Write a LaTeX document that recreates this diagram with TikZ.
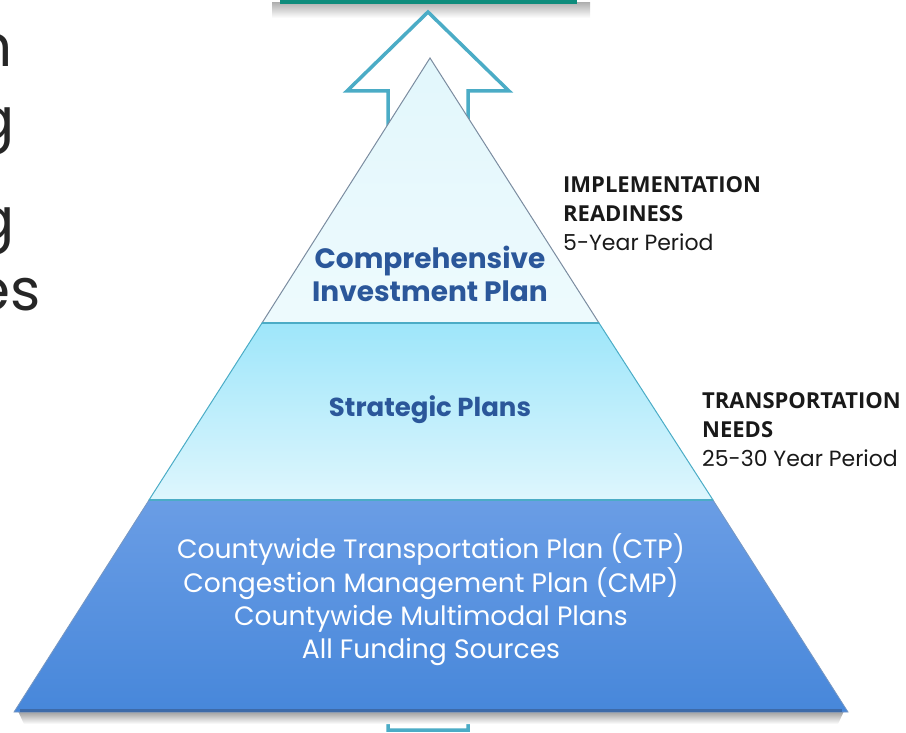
\documentclass[tikz,border=0pt]{standalone}
\usepackage{fontspec}
\setmainfont{Poppins}
\newfontfamily\headfont{Open Sans}
\usetikzlibrary{positioning}
\definecolor{arrowteal}{HTML}{4BACC6}
\definecolor{barteal}{HTML}{0E8C7C}
\definecolor{tiertext}{HTML}{2B579A}
\definecolor{toplight}{HTML}{E2F7FC}
\definecolor{midtop}{HTML}{9EE6FA}
\definecolor{midbottom}{HTML}{DEF6FD}
\definecolor{basetop}{HTML}{6A9DE5}
\definecolor{basebottom}{HTML}{4787DA}
\definecolor{baseedge}{HTML}{3D6AA8}
\definecolor{rimgray}{HTML}{7B8CA0}

\begin{document}
\begin{tikzpicture}[x=1pt, y=-1pt,
    tier_label/.style={font=\bfseries\fontsize{28}{33}\selectfont, text=tiertext, align=center},
    base_label/.style={font=\fontsize{26.6}{33.3}\selectfont, text=white, align=center},
    side_label/.style={anchor=north west, inner sep=0, align=left, font=\headfont\fontsize{22}{29}\selectfont, text=black!90},
    cut_word/.style={anchor=base east, inner sep=0, font=\fontsize{58}{60}\selectfont, text=black!85}]
  \useasboundingbox (0,0) rectangle (906,733);

  % goal bar at the top
  \shade[top color=black!30, bottom color=white] (272,3) rectangle (590,18);
  \fill[barteal] (280,-2) rectangle (577,4);

  % up arrow behind the pyramid
  \filldraw[draw=arrowteal, fill=white, line width=3.5pt, line join=miter]
    (428,12) -- (509,91) -- (468,91) -- (468,730) -- (388,730) -- (388,91) -- (347,91) -- cycle;

  \coordinate (apex) at (430,58);
  \coordinate (top_l) at (262,323);
  \coordinate (top_r) at (599,323);
  \coordinate (mid_l) at (149,500);
  \coordinate (mid_r) at (713,500);
  \coordinate (base_l) at (14,712);
  \coordinate (base_r) at (848,712);

  % shadow under the base
  \shade[top color=black!40, bottom color=white] (18,711) -- (844,711) -- (838,724) -- (24,724) -- cycle;

  % tiers
  \path[top color=toplight, bottom color=toplight!60!white, draw=rimgray, line width=1pt] (apex) -- (top_r) -- (top_l) -- cycle;
  \path[top color=midtop, bottom color=midbottom, draw=arrowteal, line width=1pt] (top_l) -- (top_r) -- (mid_r) -- (mid_l) -- cycle;
  \path[top color=basetop, bottom color=basebottom, draw=baseedge!70, line width=0.8pt] (mid_l) -- (mid_r) -- (base_r) -- (base_l) -- cycle;
  \draw[baseedge, line width=2.5pt] (20,710.5) -- (842,710.5);
  \draw[arrowteal, line width=2pt] (top_l) -- (top_r);
  \draw[arrowteal, line width=2.5pt] (mid_l) -- (mid_r);

  \node[tier_label] (invest_plan) at (430,274) {Comprehensive\\Investment Plan};
  \node[tier_label, font=\bfseries\fontsize{26}{33}\selectfont] (strategic_plans) at (430,410) {Strategic Plans};
  \node[base_label] (base_plans) at (431,600) {Countywide Transportation Plan (CTP)\\Congestion Management Plan (CMP)\\Countywide Multimodal Plans\\All Funding Sources};

  \node[side_label] (readiness) at (563,176) {\textbf{IMPLEMENTATION}\\\textbf{READINESS}\\{\rmfamily 5-Year Period}};
  \node[side_label] (needs) at (702,392) {\textbf{TRANSPORTATION}\\\textbf{NEEDS}\\{\rmfamily 25-30 Year Period}};

  % word ends cut by the left margin
  \node[cut_word] (frag_n) at (13,67) {n};
  \node[cut_word] (frag_g1) at (15,140) {g};
  \node[cut_word] (frag_g2) at (15,240) {g};
  \node[cut_word] (frag_es) at (41,310) {es};
\end{tikzpicture}
\end{document}
